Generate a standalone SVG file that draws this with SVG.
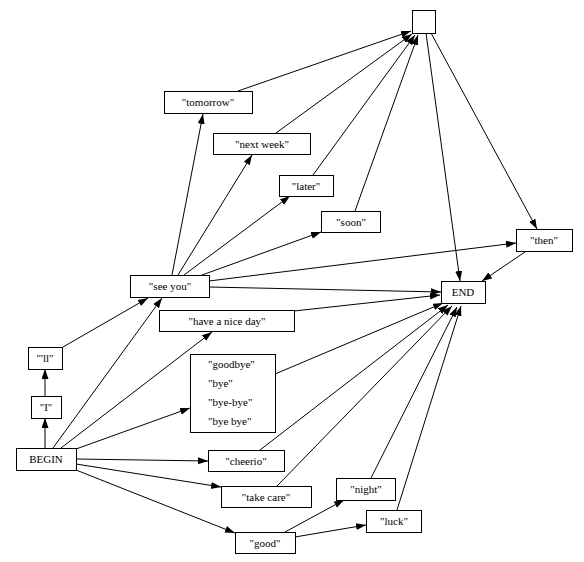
<svg xmlns="http://www.w3.org/2000/svg" width="584" height="562" viewBox="0 0 584 562">
<style>
rect{fill:#fff;stroke:#000;stroke-width:1}
text{font-family:"Liberation Serif",serif;font-size:11px;fill:#000;text-anchor:middle}
text.l{text-anchor:start}
#edges line{stroke:#000;stroke-width:1;marker-end:url(#ah)}
</style>
<defs>
<marker id="ah" markerUnits="userSpaceOnUse" markerWidth="10" markerHeight="8" refX="10" refY="3.5" orient="auto">
<path d="M0,0 L10,3.5 L0,7 z" fill="#000"/>
</marker>
</defs>
<rect x="0" y="0" width="584" height="562" style="stroke:none"/>
<g id="edges">
<line x1="238" y1="91" x2="411" y2="31"/>
<line x1="276" y1="133" x2="412" y2="34"/>
<line x1="313" y1="175" x2="415" y2="35"/>
<line x1="355" y1="211" x2="418" y2="35"/>
<line x1="426" y1="33" x2="460" y2="281"/>
<line x1="431" y1="33" x2="537" y2="229"/>
<line x1="525" y1="252" x2="482" y2="281"/>
<line x1="172" y1="275" x2="203" y2="114"/>
<line x1="178" y1="275" x2="252" y2="155"/>
<line x1="184" y1="275" x2="290" y2="196"/>
<line x1="202" y1="275" x2="321" y2="232"/>
<line x1="209" y1="281" x2="516" y2="243"/>
<line x1="209" y1="287" x2="441" y2="292"/>
<line x1="294" y1="311" x2="440" y2="295"/>
<line x1="275" y1="374" x2="443" y2="303"/>
<line x1="260" y1="450" x2="448" y2="305"/>
<line x1="277" y1="486" x2="452" y2="306"/>
<line x1="371" y1="478" x2="457" y2="307"/>
<line x1="397" y1="510" x2="461" y2="306"/>
<line x1="45" y1="448" x2="45" y2="418"/>
<line x1="45" y1="396" x2="45" y2="369"/>
<line x1="63" y1="347" x2="148" y2="298"/>
<line x1="53" y1="448" x2="162" y2="298"/>
<line x1="61" y1="448" x2="212" y2="332"/>
<line x1="76" y1="449" x2="190" y2="408"/>
<line x1="76" y1="459" x2="208" y2="461"/>
<line x1="76" y1="464" x2="221" y2="487"/>
<line x1="76" y1="470" x2="235" y2="533"/>
<line x1="285" y1="532" x2="344" y2="500"/>
<line x1="295" y1="537" x2="366" y2="525"/>
</g>
<g id="top"><rect x="412.5" y="10.5" width="23" height="23"/></g>
<g id="tomorrow"><rect x="164.5" y="91.5" width="88" height="22"/><text x="208" y="106">"tomorrow"</text></g>
<g id="nextweek"><rect x="213.5" y="133.5" width="97" height="21"/><text x="262" y="148">"next week"</text></g>
<g id="later"><rect x="279.5" y="175.5" width="54" height="21"/><text x="306" y="190">"later"</text></g>
<g id="soon"><rect x="321.5" y="211.5" width="59" height="21"/><text x="351" y="226">"soon"</text></g>
<g id="then"><rect x="516.5" y="229.5" width="56" height="22"/><text x="544" y="244">"then"</text></g>
<g id="END"><rect x="441.5" y="281.5" width="44" height="22"/><text x="463" y="296">END</text></g>
<g id="seeyou"><rect x="130.5" y="275.5" width="79" height="22"/><text x="170" y="290">"see you"</text></g>
<g id="niceday"><rect x="159.5" y="310.5" width="135" height="21"/><text x="227" y="325">"have a nice day"</text></g>
<g id="ll"><rect x="28.5" y="347.5" width="34" height="22"/><text x="45" y="362">"'ll"</text></g>
<g id="goodbye"><rect x="190.5" y="354.5" width="85" height="78"/>
<text class="l" x="208" y="368">"goodbye"</text>
<text class="l" x="208" y="387">"bye"</text>
<text class="l" x="208" y="406">"bye-bye"</text>
<text class="l" x="208" y="425">"bye bye"</text></g>
<g id="I"><rect x="31.5" y="396.5" width="30" height="22"/><text x="46" y="411">"I"</text></g>
<g id="BEGIN"><rect x="16.5" y="448.5" width="60" height="22"/><text x="46" y="463">BEGIN</text></g>
<g id="cheerio"><rect x="208.5" y="450.5" width="76" height="21"/><text x="246" y="465">"cheerio"</text></g>
<g id="takecare"><rect x="221.5" y="486.5" width="90" height="21"/><text x="266" y="501">"take care"</text></g>
<g id="good"><rect x="235.5" y="532.5" width="60" height="21"/><text x="265" y="547">"good"</text></g>
<g id="night"><rect x="336.5" y="478.5" width="59" height="22"/><text x="366" y="493">"night"</text></g>
<g id="luck"><rect x="366.5" y="510.5" width="55" height="22"/><text x="394" y="525">"luck"</text></g>
</svg>
